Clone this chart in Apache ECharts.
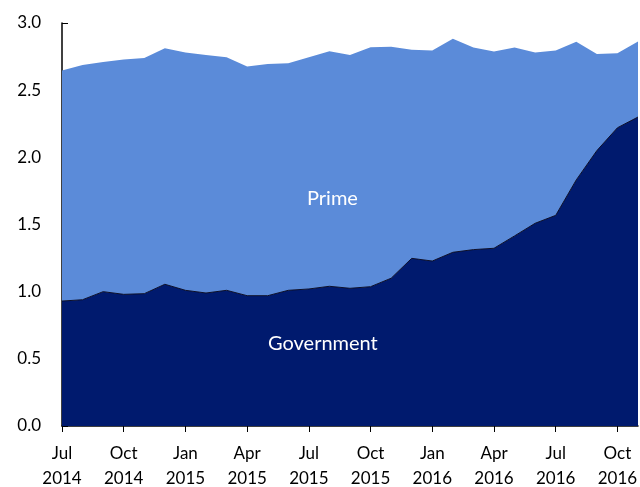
<!DOCTYPE html>
<html>
<head>
<meta charset="utf-8">
<script src="https://cdn.jsdelivr.net/npm/echarts@6/dist/echarts.min.js"></script>
<style>
  html, body { margin: 0; padding: 0; background: #fff; }
  #chart { width: 640px; height: 487px; }
</style>
</head>
<body>
<div id="chart"></div>
<script>
// monthly, Jul 2014 .. Nov 2016 (trillions)
var months = [
  "Jul 2014", "Aug 2014", "Sep 2014", "Oct 2014", "Nov 2014", "Dec 2014",
  "Jan 2015", "Feb 2015", "Mar 2015", "Apr 2015", "May 2015", "Jun 2015",
  "Jul 2015", "Aug 2015", "Sep 2015", "Oct 2015", "Nov 2015", "Dec 2015",
  "Jan 2016", "Feb 2016", "Mar 2016", "Apr 2016", "May 2016", "Jun 2016",
  "Jul 2016", "Aug 2016", "Sep 2016", "Oct 2016", "Nov 2016"
];
var government = [
  0.93, 0.94, 1.00, 0.98, 0.985, 1.055, 1.01, 0.99, 1.01, 0.97,
  0.97, 1.01, 1.02, 1.04, 1.025, 1.037, 1.10, 1.248, 1.228, 1.293,
  1.313, 1.323, 1.415, 1.509, 1.568, 1.832, 2.05, 2.22, 2.30
];
var total = [
  2.646, 2.688, 2.71, 2.728, 2.74, 2.812, 2.78, 2.762, 2.745, 2.677,
  2.695, 2.70, 2.745, 2.79, 2.762, 2.82, 2.824, 2.80, 2.795, 2.882,
  2.817, 2.787, 2.817, 2.78, 2.795, 2.86, 2.77, 2.775, 2.862
];
var prime = total.map(function (t, i) { return +(t - government[i]).toFixed(3); });

var chart = echarts.init(document.getElementById("chart"));
var font = "Lato";
chart.setOption({
  animation: false,
  textStyle: { fontFamily: font },
  grid: { left: 62, right: 2, top: 23, bottom: 61, containLabel: false, outerBoundsMode: "none" },
  xAxis: {
    type: "category",
    data: months,
    boundaryGap: false,
    axisLine: { lineStyle: { color: "#000", width: 1.5 } },
    axisTick: { interval: 2, length: 6, lineStyle: { color: "#000" } },
    axisLabel: {
      interval: 2,
      color: "#000",
      fontSize: 17,
      lineHeight: 25,
      margin: 15,
      formatter: function (v) { return v.replace(" ", "\n"); }
    },
    splitLine: { show: false }
  },
  yAxis: {
    type: "value",
    min: 0,
    max: 3,
    interval: 0.5,
    axisLine: { show: true, lineStyle: { color: "#000", width: 1.5 } },
    axisTick: { show: true, inside: true, length: 6, lineStyle: { color: "#000" } },
    axisLabel: {
      color: "#000",
      fontSize: 17,
      margin: 21,
      formatter: function (v) { return v.toFixed(1); }
    },
    splitLine: { show: false }
  },
  series: [
    {
      name: "Government",
      type: "line",
      stack: "a",
      data: government,
      showSymbol: false,
      lineStyle: { color: "#0b0f2a", width: 1 },
      areaStyle: { color: "#001A6E", opacity: 1 },
      z: 3
    },
    {
      name: "Prime",
      type: "line",
      stack: "a",
      data: prime,
      showSymbol: false,
      lineStyle: { width: 0 },
      areaStyle: { color: "#5B8BD9", opacity: 1 },
      z: 2
    }
  ],
  graphic: [
    { type: "text", left: 307, top: 189, style: { text: "Prime", fill: "#fff", font: "20px Lato" }, z: 10 },
    { type: "text", left: 268, top: 334, style: { text: "Government", fill: "#fff", font: "20px Lato" }, z: 10 }
  ]
});
</script>
</body>
</html>
